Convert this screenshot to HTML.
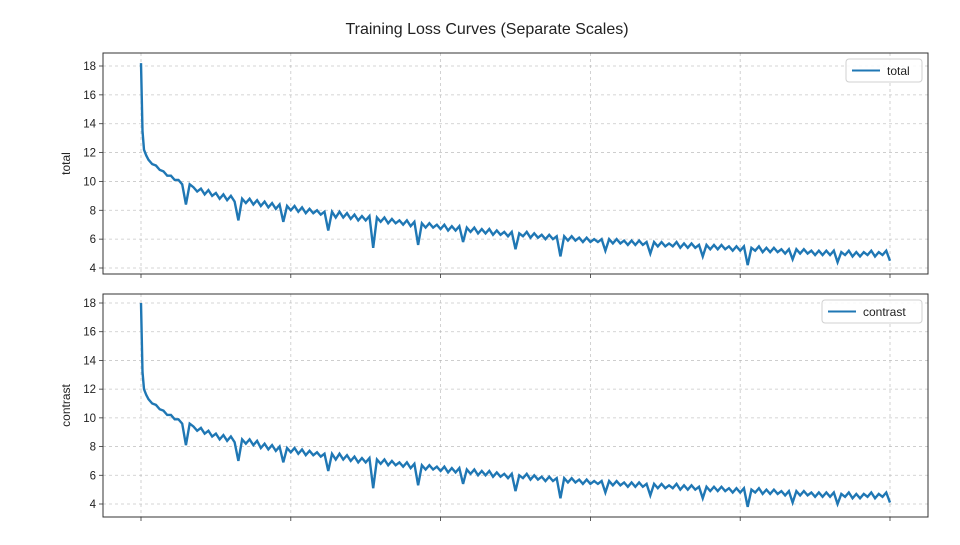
<!DOCTYPE html>
<html><head><meta charset="utf-8"><style>
body{margin:0;background:#fff}
svg text{font-family:"Liberation Sans","DejaVu Sans",sans-serif;fill:#222}
</style></head><body>
<svg id="fig" width="960" height="540" xmlns="http://www.w3.org/2000/svg">
<rect width="960" height="540" fill="#fff"/>
<text x="487" y="34" font-size="16" text-anchor="middle">Training Loss Curves (Separate Scales)</text>
</svg>
<script>
const yTicks=[4,6,8,10,12,14,16,18];
const xTicks=[0,20,40,60,80,100];
const warmupSteps=[0,0.2,0.4,0.7];
const totalWarmup=[18.2,13.5,12.2,11.8];
const contrastWarmup=[18.0,13.2,12.0,11.6];
const totalValues=[11.5,11.2,11.1,10.8,10.7,10.4,10.4,10.1,10.1,9.8,
8.4,9.8,9.6,9.3,9.5,9.1,9.4,9.0,9.2,8.8,
9.1,8.7,9.0,8.6,7.3,8.8,8.5,8.8,8.4,8.7,
8.3,8.6,8.2,8.5,8.1,8.4,7.2,8.3,8.0,8.3,
7.9,8.2,7.8,8.1,7.8,8.0,7.7,7.9,6.6,7.9,
7.5,7.9,7.5,7.8,7.4,7.7,7.3,7.6,7.3,7.6,
5.4,7.5,7.2,7.5,7.1,7.4,7.1,7.3,7.0,7.3,
6.9,7.2,5.6,7.1,6.8,7.1,6.8,7.0,6.7,7.0,
6.6,6.9,6.6,6.9,5.8,6.8,6.5,6.8,6.4,6.7,
6.4,6.7,6.3,6.6,6.3,6.5,6.2,6.5,5.3,6.4,
6.2,6.5,6.1,6.4,6.1,6.3,6.0,6.3,6.0,6.2,
4.8,6.2,5.9,6.2,5.9,6.1,5.8,6.1,5.8,6.0,
5.8,6.0,5.2,6.0,5.7,6.0,5.7,5.9,5.6,5.9,
5.6,5.9,5.6,5.8,5.0,5.8,5.5,5.8,5.5,5.7,
5.5,5.8,5.4,5.7,5.4,5.7,5.4,5.6,4.8,5.6,
5.3,5.6,5.3,5.6,5.3,5.5,5.2,5.5,5.2,5.5,
4.2,5.4,5.2,5.5,5.1,5.4,5.1,5.4,5.1,5.3,
5.0,5.3,4.6,5.3,5.0,5.3,5.0,5.2,4.9,5.2,
4.9,5.2,4.9,5.2,4.4,5.1,4.9,5.2,4.8,5.1,
4.8,5.1,4.9,5.2,4.8,5.1,4.9,5.2,4.5];
const contrastValues=[11.3,11.0,10.9,10.6,10.5,10.2,10.2,9.9,9.9,9.6,
8.1,9.6,9.4,9.1,9.3,8.9,9.1,8.7,8.9,8.5,
8.8,8.4,8.7,8.3,7.0,8.5,8.2,8.5,8.1,8.4,
7.9,8.2,7.8,8.1,7.7,8.0,6.9,7.9,7.6,7.9,
7.5,7.8,7.4,7.7,7.4,7.6,7.3,7.5,6.3,7.5,
7.1,7.5,7.1,7.4,7.0,7.3,6.9,7.2,6.9,7.2,
5.1,7.1,6.8,7.1,6.7,7.0,6.7,6.9,6.6,6.9,
6.5,6.8,5.3,6.7,6.4,6.7,6.4,6.6,6.3,6.6,
6.2,6.5,6.2,6.5,5.4,6.4,6.1,6.4,6.0,6.3,
6.0,6.3,5.9,6.2,5.9,6.1,5.8,6.1,4.9,6.0,
5.8,6.1,5.7,6.0,5.7,5.9,5.6,5.9,5.6,5.8,
4.4,5.8,5.5,5.8,5.5,5.7,5.4,5.7,5.4,5.6,
5.4,5.6,4.8,5.6,5.3,5.6,5.3,5.5,5.2,5.5,
5.2,5.5,5.2,5.4,4.6,5.4,5.1,5.4,5.1,5.3,
5.1,5.4,5.0,5.3,5.0,5.3,5.0,5.2,4.4,5.2,
4.9,5.2,4.9,5.2,4.9,5.1,4.8,5.1,4.8,5.1,
3.8,5.0,4.8,5.1,4.7,5.0,4.7,5.0,4.7,4.9,
4.6,4.9,4.1,4.9,4.6,4.9,4.6,4.8,4.5,4.8,
4.5,4.8,4.5,4.8,4.0,4.7,4.5,4.8,4.4,4.7,
4.4,4.7,4.5,4.8,4.4,4.7,4.5,4.8,4.1];
const NS="http://www.w3.org/2000/svg";
const svg=document.getElementById('fig');
function mk(tag,attrs){const e=document.createElementNS(NS,tag);for(const k in attrs)e.setAttribute(k,attrs[k]);svg.appendChild(e);return e;}
function panel(name,warm,values,top,bottom,y18,y4,legTop,legLeft){
  const L=103,R=928;
  const xs=v=>141+(v/100)*749;
  const ys=v=>y4+(v-4)*(y18-y4)/14;
  yTicks.forEach(t=>{
    const g=mk('line',{x1:L,x2:R,y1:ys(t),y2:ys(t),stroke:'#b0b0b0','stroke-width':0.8,'stroke-dasharray':'3,3',opacity:0.7});
    
    
    const tk=mk('line',{x1:L-4,x2:L,y1:ys(t),y2:ys(t),stroke:'#333','stroke-width':0.8});
    
    
    const lb=mk('text',{x:L-7,y:ys(t)+4,'font-size':11.5,'text-anchor':'end'});
    lb.textContent=t;
    
    
  });
  xTicks.forEach(t=>{
    const g=mk('line',{x1:xs(t),x2:xs(t),y1:top,y2:bottom,stroke:'#b0b0b0','stroke-width':0.8,'stroke-dasharray':'3,3',opacity:0.7});
    
    
    const tk=mk('line',{x1:xs(t),x2:xs(t),y1:bottom,y2:bottom+4,stroke:'#333','stroke-width':0.8});
    
    
  });
  const pts=[];
  warm.forEach((v,i)=>pts.push(xs(warmupSteps[i])+','+ys(v)));
  values.forEach((v,i)=>pts.push(xs(1+i*0.5)+','+ys(v)));
  const ln=mk('polyline',{points:pts.join(' '),fill:'none',stroke:'#1f77b4','stroke-width':2.4,'stroke-linejoin':'miter'});
  
  
  const fr=mk('rect',{x:L,y:top,width:R-L,height:bottom-top,fill:'none',stroke:'#333','stroke-width':1});
  
  
  const yl=mk('text',{x:0,y:0,'font-size':12,'text-anchor':'middle',transform:`translate(70,${(top+bottom)/2}) rotate(-90)`});
  yl.textContent=name;
  
  
  const lg=mk('rect',{x:legLeft,y:legTop,width:922-legLeft,height:23,rx:3,fill:'#fff',stroke:'#ccc','stroke-width':1,opacity:0.9});
  
  
  const ll=mk('line',{x1:legLeft+6,x2:legLeft+34,y1:legTop+11.5,y2:legTop+11.5,stroke:'#1f77b4','stroke-width':2});
  
  
  const lt=mk('text',{x:legLeft+41,y:legTop+16,'font-size':12});
  lt.textContent=name;
  
  
}
panel('total',totalWarmup,totalValues,53,274,66,268,59,846);
panel('contrast',contrastWarmup,contrastValues,294,517,303,504,300,822);
</script>
</body></html>
